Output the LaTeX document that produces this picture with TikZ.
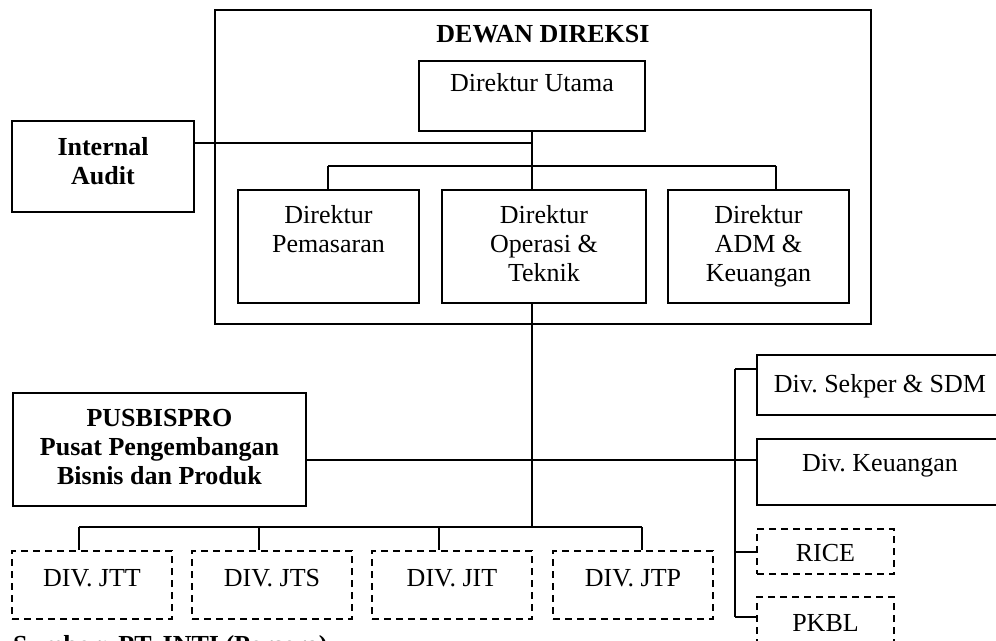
\documentclass[tikz,border=0pt]{standalone}
\usepackage{fontspec}
\setmainfont{Liberation Serif}
\usetikzlibrary{positioning}

\newcommand{\chartfont}{\fontsize{13}{14.5}\selectfont}

\tikzset{
  box/.style={draw, line width=1pt, inner sep=0pt, anchor=north west},
  dbox/.style={box, dash pattern=on 3.5pt off 2.5pt},
  txt/.style={inner sep=0pt, align=center},
  btxt/.style={txt, font=\chartfont\bfseries},
}

\begin{document}
\begin{tikzpicture}[x=0.5pt, y=-0.5pt, line width=1pt, font=\chartfont]
\useasboundingbox (0,0) rectangle (996,641);

% dewan direksi
\node[box, minimum width=328pt, minimum height=157pt] (dewan) at (214,9) {};
\node[btxt, below=7.5pt of dewan.north] (dewanT) {DEWAN DIREKSI};
\node[box, minimum width=113pt, minimum height=35pt] (utama) at (418,60) {};
\node[txt, below=6pt of utama.north] (utamaT) {Direktur Utama};

\node[box, minimum width=90.5pt, minimum height=56.5pt] (pemasaran) at (237,189) {};
\node[txt, below=7.5pt of pemasaran.north] (pemasaranT) {Direktur\\Pemasaran};
\node[box, minimum width=102pt, minimum height=56.5pt] (operasi) at (441,189) {};
\node[txt, below=7.5pt of operasi.north] (operasiT) {Direktur\\Operasi \&\\Teknik};
\node[box, minimum width=90.5pt, minimum height=56.5pt] (adm) at (667,189) {};
\node[txt, below=7.5pt of adm.north] (admT) {Direktur\\ADM \&\\Keuangan};

% staff
\node[box, minimum width=91pt, minimum height=45.5pt] (audit) at (11,120) {};
\node[btxt, below=8pt of audit.north] (auditT) {Internal\\Audit};
\node[box, minimum width=146.5pt, minimum height=56.5pt] (pusbispro) at (12,392) {};
\node[btxt, below=8pt of pusbispro.north] (pusbisproT) {PUSBISPRO\\Pusat Pengembangan\\Bisnis dan Produk};

% right side
\node[box, minimum width=123pt, minimum height=30pt] (sekper) at (756,354) {};
\node[txt, below=9.5pt of sekper.north] (sekperT) {Div.\ Sekper \& SDM};
\node[box, minimum width=123pt, minimum height=33pt] (keuangan) at (756,438) {};
\node[txt, below=7.5pt of keuangan.north] (keuanganT) {Div.\ Keuangan};
\node[dbox, minimum width=68.5pt, minimum height=22.5pt] (rice) at (756,528) {};
\node[txt, below=7.5pt of rice.north] (riceT) {RICE};
\node[dbox, minimum width=68.5pt, minimum height=34pt] (pkbl) at (756,596) {};
\node[txt, below=8.5pt of pkbl.north] (pkblT) {PKBL};

% divisi
\node[dbox, minimum width=80pt, minimum height=34pt] (jtt) at (11,550) {};
\node[dbox, minimum width=80pt, minimum height=34pt] (jts) at (191,550) {};
\node[dbox, minimum width=80pt, minimum height=34pt] (jit) at (371,550) {};
\node[dbox, minimum width=80pt, minimum height=34pt] (jtp) at (552,550) {};
\foreach \n/\t in {jtt/JTT, jts/JTS, jit/JIT, jtp/JTP}
  \node[txt, below=9pt of \n.north] (\n T) {DIV. \t};

\node[btxt, anchor=north west] (sumber) at (12,634) {Sumber: PT. INTI (Persero)};

% connectors
\coordinate (auditJ) at (193,143);
\coordinate (busTopL) at (328,166);
\coordinate (busTopR) at (776,166);
\coordinate (pusJ) at (305,460);
\coordinate (busBotL) at (79,527);
\coordinate (busBotR) at (642,527);
\coordinate (busRtop) at (735,369);
\coordinate (busRbot) at (735,617);

\draw (utama.south) -- (utama.south |- operasi.north);
\draw (auditJ) -- (auditJ -| utama.south);
\draw (busTopL) -- (busTopR);
\draw (busTopL) -- (busTopL |- pemasaran.north);
\draw (busTopR) -- (busTopR |- adm.north);
\draw (utama.south |- operasi.south) -- (utama.south |- busBotL);
\draw (pusJ) -- (pusJ -| keuangan.west);
\draw (busBotL) -- (busBotR);
\foreach \n/\x in {jtt/79, jts/259, jit/439, jtp/642}
  \draw (\x,527) -- (\x,527 |- \n.north);
\draw (busRtop) -- (busRbot);
\draw (busRtop) -- (busRtop -| sekper.west);
\draw (busRtop |- rice.west) -- (rice.west);
\draw (busRbot) -- (busRbot -| pkbl.west);
\end{tikzpicture}
\end{document}
